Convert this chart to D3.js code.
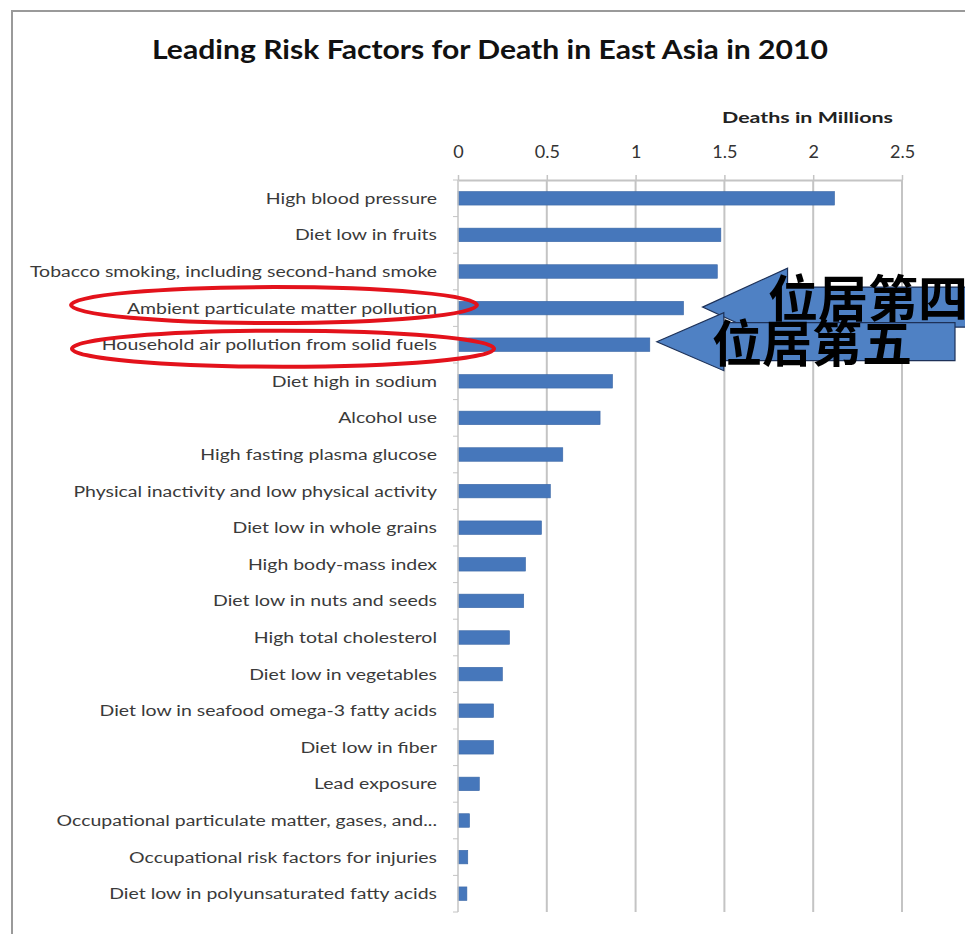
<!DOCTYPE html>
<html>
<head>
<meta charset="utf-8">
<script src="https://cdn.jsdelivr.net/npm/d3@7"></script>
<style>
  html, body { margin: 0; padding: 0; background: #fff; }
  svg { display: block; }
</style>
</head>
<body>
<svg id="chart" width="965" height="934"></svg>
<script>
// Risk factors, top to bottom
const categories = [
  "High blood pressure",
  "Diet low in fruits",
  "Tobacco smoking, including second-hand smoke",
  "Ambient particulate matter pollution",
  "Household air pollution from solid fuels",
  "Diet high in sodium",
  "Alcohol use",
  "High fasting plasma glucose",
  "Physical inactivity and low physical activity",
  "Diet low in whole grains",
  "High body-mass index",
  "Diet low in nuts and seeds",
  "High total cholesterol",
  "Diet low in vegetables",
  "Diet low in seafood omega-3 fatty acids",
  "Diet low in fiber",
  "Lead exposure",
  "Occupational particulate matter, gases, and...",
  "Occupational risk factors for injuries",
  "Diet low in polyunsaturated fatty acids"
];

// Deaths in millions
const deaths = [2.12, 1.48, 1.46, 1.27, 1.08, 0.87, 0.80, 0.59, 0.52, 0.47,
                0.38, 0.37, 0.29, 0.25, 0.20, 0.20, 0.12, 0.065, 0.055, 0.05];

const tickValues = [0, 0.5, 1, 1.5, 2, 2.5];
const tickLabels = ["0", "0.5", "1", "1.5", "2", "2.5"];

const titleText = "Leading Risk Factors for Death in East Asia in 2010";
const axisTitle = "Deaths in Millions";

// Callouts: which rows are circled and their ranking notes
const highlighted = ["Ambient particulate matter pollution",
                     "Household air pollution from solid fuels"];
const rankNotes = ["位居第四", "位居第五"];

const data = categories.map((c, i) => ({ name: c, value: deaths[i] }));

const svg = d3.select("#chart");
const font = "Lato, 'Open Sans', 'DejaVu Sans', sans-serif";

const plot = { left: 458, right: 902, top: 180, bottom: 912 };

const x = d3.scaleLinear().domain([0, 2.5]).range([plot.left, plot.right]);
const y = d3.scaleBand().domain(categories)
  .range([plot.top, plot.bottom])
  .paddingInner(0.63).paddingOuter(0.315);
const yc = name => y(name) + y.bandwidth() / 2;

// Outer frame
svg.append("path")
  .attr("d", "M12,934 L12,11 L965,11")
  .attr("fill", "none").attr("stroke", "#9a9a9a").attr("stroke-width", 2);

// Title
svg.append("text")
  .attr("x", 490).attr("y", 59)
  .attr("text-anchor", "middle")
  .attr("font-family", font).attr("font-weight", 700)
  .attr("font-size", 27).attr("fill", "#111")
  .attr("textLength", 676).attr("lengthAdjust", "spacingAndGlyphs")
  .text(titleText);

// Axis title
svg.append("text")
  .attr("x", 893).attr("y", 123)
  .attr("text-anchor", "end")
  .attr("font-family", font).attr("font-weight", 700)
  .attr("font-size", 16).attr("fill", "#222")
  .attr("textLength", 171).attr("lengthAdjust", "spacingAndGlyphs")
  .text(axisTitle);

// Vertical gridlines
svg.append("g").selectAll("line")
  .data(tickValues.slice(1))
  .join("line")
  .attr("x1", d => x(d)).attr("x2", d => x(d))
  .attr("y1", plot.top).attr("y2", plot.bottom)
  .attr("stroke", "#c4c4c4").attr("stroke-width", 2);

// Top value axis
const xAxis = d3.axisTop(x)
  .tickValues(tickValues)
  .tickFormat((d, i) => tickLabels[i])
  .tickSize(5).tickSizeOuter(0).tickPadding(17);
const gx = svg.append("g")
  .attr("transform", `translate(0,${plot.top})`)
  .call(xAxis);
gx.select(".domain").attr("stroke", "#c4c4c4").attr("stroke-width", 2);
gx.selectAll(".tick line").attr("stroke", "#c4c4c4").attr("stroke-width", 1.5);
gx.selectAll(".tick text")
  .attr("font-family", font).attr("font-size", 18).attr("fill", "#333");

// Bars
svg.append("g").selectAll("rect")
  .data(data)
  .join("rect")
  .attr("x", x(0))
  .attr("y", d => y(d.name))
  .attr("width", d => x(d.value) - x(0))
  .attr("height", y.bandwidth())
  .attr("fill", "#4677bb")
  .attr("stroke", "#3a67a6").attr("stroke-width", 0.6);

// Category axis on the left: line with small tick marks between rows
const step = y.step();
const boundaries = d3.range(categories.length + 1).map(i => plot.top + i * step);
const gy = svg.append("g");
gy.append("line")
  .attr("x1", plot.left).attr("x2", plot.left)
  .attr("y1", plot.top).attr("y2", plot.bottom)
  .attr("stroke", "#c4c4c4").attr("stroke-width", 1.5);
gy.selectAll("line.tk")
  .data(boundaries)
  .join("line").attr("class", "tk")
  .attr("x1", plot.left - 5).attr("x2", plot.left)
  .attr("y1", d => d).attr("y2", d => d)
  .attr("stroke", "#c4c4c4").attr("stroke-width", 1);

// Category labels, condensed to the narrow face of the original layout
const labels = gy.selectAll("text.lbl")
  .data(categories)
  .join("text").attr("class", "lbl")
  .attr("x", 437)
  .attr("y", d => yc(d))
  .attr("dy", "0.35em")
  .attr("text-anchor", "end")
  .attr("font-family", font).attr("font-size", 15.5)
  .attr("fill", "#3a3a3a")
  .text(d => d);
const widths = labels.nodes().map(n => n.getComputedTextLength());
const longest = widths[categories.indexOf("Tobacco smoking, including second-hand smoke")];
const squeeze = 407 / longest;
labels.each(function (d, i) {
  d3.select(this)
    .attr("textLength", widths[i] * squeeze)
    .attr("lengthAdjust", "spacingAndGlyphs");
});

// Red rings around the air-pollution rows
const rings = [
  { name: highlighted[0], cx: 274, dy: -3, rx: 203, ry: 18 },
  { name: highlighted[1], cx: 283, dy: 4, rx: 211, ry: 18 }
];
svg.append("g").selectAll("ellipse")
  .data(rings)
  .join("ellipse")
  .attr("cx", d => d.cx)
  .attr("cy", d => yc(d.name) + d.dy)
  .attr("rx", d => d.rx).attr("ry", d => d.ry)
  .attr("fill", "none")
  .attr("stroke", "#e3121b").attr("stroke-width", 4);

// Block arrows pointing at the two bars, each carrying its rank note
const arrows = [
  { name: highlighted[0], gap: 19, dyTip: -1, head: 85, headHalf: 39, bodyHalf: 20, end: 990,
    note: rankNotes[0], tx: 768, tyOff: 10 },
  { name: highlighted[1], gap: 7, dyTip: -3, head: 67, headHalf: 29, bodyHalf: 19, end: 955,
    note: rankNotes[1], tx: 712, tyOff: 20 }
];
arrows.forEach(a => {
  const tipX = x(deaths[categories.indexOf(a.name)]) + a.gap;
  const tipY = yc(a.name) + a.dyTip;
  const bx = tipX + a.head;
  const pts = [
    [tipX, tipY],
    [bx, tipY - a.headHalf],
    [bx, tipY - a.bodyHalf],
    [a.end, tipY - a.bodyHalf],
    [a.end, tipY + a.bodyHalf],
    [bx, tipY + a.bodyHalf],
    [bx, tipY + a.headHalf]
  ];
  svg.append("path")
    .attr("d", d3.line()(pts) + "Z")
    .attr("fill", "#4f81c4")
    .attr("stroke", "#1d3158").attr("stroke-width", 1.2);
  svg.append("text")
    .attr("x", a.tx).attr("y", tipY + a.tyOff)
    .attr("font-family", "'Noto Sans CJK SC', sans-serif")
    .attr("font-weight", 700).attr("font-size", 50)
    .attr("fill", "#000")
    .text(a.note);
});
</script>
</body>
</html>
